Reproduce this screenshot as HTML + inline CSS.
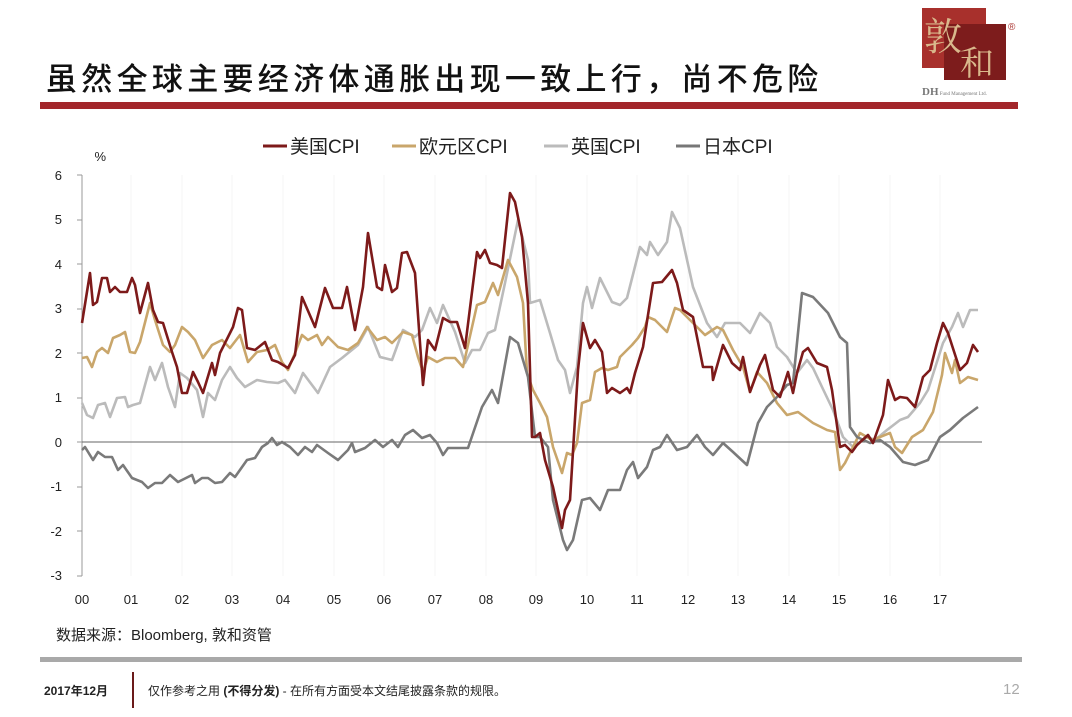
<!DOCTYPE html>
<html><head><meta charset="utf-8"><style>
body{margin:0;width:1072px;height:717px;background:#fff;position:relative;overflow:hidden;font-family:"Liberation Sans","Noto Sans CJK SC",sans-serif}
.a{position:absolute}
</style></head><body>
<div class="a" style="left:46px;top:54px;font-size:31px;letter-spacing:4.3px;color:#111;font-family:'Noto Sans CJK SC',sans-serif;font-weight:500">虽然全球主要经济体通胀出现一致上行，尚不危险</div>
<div class="a" style="left:40px;top:102px;width:978px;height:7px;background:#a3272b"></div>
<div class="a" style="left:922px;top:8px;width:64px;height:60px;background:#a8302c"></div>
<div class="a" style="left:944px;top:24px;width:62px;height:56px;background:#7d1c1c"></div>
<div class="a" style="left:924px;top:6px;font-size:38px;color:#d9b88c;font-family:'Noto Serif CJK SC',serif">敦</div>
<div class="a" style="left:960px;top:36px;font-size:34px;color:#d9b88c;font-family:'Noto Serif CJK SC',serif">和</div>
<div class="a" style="left:1008px;top:22px;font-size:10px;color:#a8302c">®</div>
<div class="a" style="left:922px;top:86px;font-size:11px;color:#777;font-family:'Liberation Serif',serif;font-weight:bold">DH<span style="font-size:5px;font-weight:normal"> Fund Management Ltd.</span></div>
<svg class="a" style="left:0;top:0" width="1072" height="717">
<g font-size="19" font-family="Liberation Sans,Noto Sans CJK SC,sans-serif" fill="#222">
<line x1="263" y1="146" x2="287" y2="146" stroke="#7d1a1a" stroke-width="3"/><text x="290" y="153">美国CPI</text>
<line x1="392" y1="146" x2="416" y2="146" stroke="#c9a66b" stroke-width="3"/><text x="419" y="153">欧元区CPI</text>
<line x1="544" y1="146" x2="568" y2="146" stroke="#bbb" stroke-width="3"/><text x="571" y="153">英国CPI</text>
<line x1="676" y1="146" x2="700" y2="146" stroke="#777" stroke-width="3"/><text x="703" y="153">日本CPI</text>
</g>
<g font-size="13" fill="#222" text-anchor="end">
<text x="106" y="161">%</text>
<text x="62" y="180">6</text><text x="62" y="224">5</text><text x="62" y="269">4</text><text x="62" y="313">3</text><text x="62" y="358">2</text><text x="62" y="402">1</text><text x="62" y="447">0</text><text x="62" y="491">-1</text><text x="62" y="536">-2</text><text x="62" y="580">-3</text>
</g>
<g stroke="#999" stroke-width="1">
<line x1="82" y1="175" x2="82" y2="576"/>
<line x1="77" y1="175" x2="82" y2="175"/><line x1="77" y1="220" x2="82" y2="220"/><line x1="77" y1="264" x2="82" y2="264"/><line x1="77" y1="309" x2="82" y2="309"/><line x1="77" y1="353" x2="82" y2="353"/><line x1="77" y1="398" x2="82" y2="398"/><line x1="77" y1="442" x2="82" y2="442"/><line x1="77" y1="487" x2="82" y2="487"/><line x1="77" y1="531" x2="82" y2="531"/><line x1="77" y1="576" x2="82" y2="576"/>
</g>
<g stroke="#f6f6f6" stroke-width="1">
<line x1="131" y1="175" x2="131" y2="576"/><line x1="182" y1="175" x2="182" y2="576"/><line x1="232" y1="175" x2="232" y2="576"/><line x1="283" y1="175" x2="283" y2="576"/><line x1="334" y1="175" x2="334" y2="576"/><line x1="384" y1="175" x2="384" y2="576"/><line x1="435" y1="175" x2="435" y2="576"/><line x1="486" y1="175" x2="486" y2="576"/><line x1="536" y1="175" x2="536" y2="576"/><line x1="587" y1="175" x2="587" y2="576"/><line x1="637" y1="175" x2="637" y2="576"/><line x1="688" y1="175" x2="688" y2="576"/><line x1="738" y1="175" x2="738" y2="576"/><line x1="789" y1="175" x2="789" y2="576"/><line x1="839" y1="175" x2="839" y2="576"/><line x1="890" y1="175" x2="890" y2="576"/><line x1="940" y1="175" x2="940" y2="576"/>
</g>
<line x1="82" y1="442" x2="982" y2="442" stroke="#666" stroke-width="1"/>
<g font-size="13" fill="#222" text-anchor="middle">
<text x="82" y="604">00</text><text x="131" y="604">01</text><text x="182" y="604">02</text><text x="232" y="604">03</text><text x="283" y="604">04</text><text x="334" y="604">05</text><text x="384" y="604">06</text><text x="435" y="604">07</text><text x="486" y="604">08</text><text x="536" y="604">09</text><text x="587" y="604">10</text><text x="637" y="604">11</text><text x="688" y="604">12</text><text x="738" y="604">13</text><text x="789" y="604">14</text><text x="839" y="604">15</text><text x="890" y="604">16</text><text x="940" y="604">17</text>
</g>
<g fill="none" stroke-width="2.6" stroke-linejoin="round">
<polyline stroke="#bbb" points="82,403 87,415 93,418 98,405 105,403 110,417 117,398 125,397 128,407 133,405 140,403 150,367 155,380 162,363 168,387 175,407 180,373 187,378 197,390 203,417 208,393 215,400 222,380 230,367 237,378 245,387 257,380 267,382 278,383 285,380 295,393 303,373 318,393 330,367 342,358 358,345 368,327 380,357 392,360 403,330 415,337 422,330 430,308 437,323 443,305 455,332 465,363 472,350 480,350 488,333 495,330 505,283 518,220 528,260 530,303 540,300 550,333 558,360 565,370 570,393 577,367 583,303 587,287 592,308 600,278 612,302 620,305 627,298 640,247 647,255 650,242 658,255 667,242 672,212 680,228 693,287 707,323 717,337 725,323 740,323 750,333 760,313 770,323 777,347 787,357 797,373 807,360 813,368 822,387 833,410 843,437 853,447 867,437 875,440 887,430 900,420 908,417 920,403 928,390 943,343 952,327 958,313 963,327 970,310 978,310"/>
<polyline stroke="#c9a66b" points="82,358 87,357 92,367 97,352 102,348 108,353 113,338 120,335 125,332 130,352 135,353 140,342 150,303 155,320 163,345 170,352 175,345 182,327 188,332 195,340 203,358 212,345 222,340 230,348 240,335 248,362 257,352 267,350 275,345 282,362 288,370 295,353 302,335 308,340 317,335 322,345 328,337 338,347 348,350 358,343 367,327 377,340 385,337 392,343 403,332 412,335 418,357 423,372 428,357 437,362 445,358 455,358 463,367 477,305 485,302 493,283 498,295 508,260 517,277 523,303 527,373 533,390 540,403 547,417 553,447 562,473 567,453 572,455 577,443 582,403 590,400 595,372 602,368 608,370 617,367 620,357 632,345 638,338 645,327 648,317 655,320 667,332 675,308 680,310 693,323 705,335 717,327 723,330 733,350 743,367 750,392 757,372 767,383 777,403 787,415 798,412 813,423 827,430 835,432 840,470 845,463 853,447 860,433 872,440 880,437 890,433 895,447 902,453 912,437 923,430 933,412 942,375 945,353 952,373 955,360 960,383 968,377 978,380"/>
<polyline stroke="#7a7a7a" points="82,450 85,447 93,460 98,452 105,457 112,457 118,470 123,465 132,478 142,482 148,488 155,483 162,483 170,475 178,482 192,475 195,483 202,478 208,478 215,483 222,482 230,473 235,477 247,460 255,458 262,447 268,443 272,438 277,445 282,442 290,447 298,455 305,447 312,452 317,445 328,453 338,460 348,450 352,443 355,452 365,448 375,440 383,447 392,440 398,447 405,435 413,430 422,438 430,435 437,443 443,455 448,448 468,448 482,407 492,390 498,403 510,337 518,343 528,377 535,437 540,437 548,447 553,500 563,540 567,550 573,540 582,500 590,498 600,510 608,490 620,490 627,470 633,462 638,478 647,467 653,450 660,447 667,435 677,450 687,447 697,435 705,447 713,455 723,443 733,452 747,465 758,423 767,407 777,397 787,385 793,383 802,293 813,297 828,313 840,337 847,343 850,427 857,437 870,443 880,440 890,447 903,462 915,465 928,460 940,437 950,430 963,418 978,407"/>
<polyline stroke="#7d1a1a" points="82,323 90,273 93,305 97,302 102,278 107,278 110,292 115,287 120,292 127,292 132,278 135,285 140,313 148,283 153,310 158,322 163,323 172,352 177,367 182,393 187,393 193,372 198,382 203,393 212,363 215,375 220,353 233,327 238,308 242,310 247,348 255,350 265,342 272,360 278,362 288,368 295,355 302,297 315,327 325,288 333,308 342,308 347,287 355,330 363,287 368,233 377,287 382,290 385,265 392,292 397,288 402,253 407,252 415,273 423,385 428,340 435,350 443,318 450,322 457,322 465,348 477,252 480,258 485,250 490,263 497,265 502,268 510,193 515,202 522,237 528,303 532,437 535,437 540,433 545,460 553,487 562,528 565,510 570,500 578,370 583,323 590,348 595,340 602,352 607,393 612,388 620,393 627,388 630,393 635,373 643,347 653,283 662,282 672,270 677,283 683,310 693,317 703,367 712,367 713,380 723,345 732,363 740,370 743,357 750,392 760,365 765,355 773,390 780,397 788,372 793,393 797,373 803,352 808,348 817,363 827,367 832,390 840,447 845,445 852,452 857,445 868,435 873,443 883,415 888,380 895,400 900,397 907,398 915,407 923,377 930,370 937,343 943,323 948,333 960,370 967,363 973,345 978,352"/>
</g>
</svg>
<div class="a" style="left:56px;top:624px;font-size:15px;color:#222">数据来源：Bloomberg, 敦和资管</div>
<div class="a" style="left:40px;top:657px;width:982px;height:5px;background:#a9a9a9"></div>
<div class="a" style="left:132px;top:672px;width:2px;height:36px;background:#6b1a1a"></div>
<div class="a" style="left:44px;top:682px;font-size:12px;font-weight:bold;color:#222">2017年12月</div>
<div class="a" style="left:148px;top:682px;font-size:12px;color:#222">仅作参考之用 <b>(不得分发)</b> - 在所有方面受本文结尾披露条款的规限。</div>
<div class="a" style="left:1003px;top:681px;font-size:15px;color:#aaa">12</div>
</body></html>
